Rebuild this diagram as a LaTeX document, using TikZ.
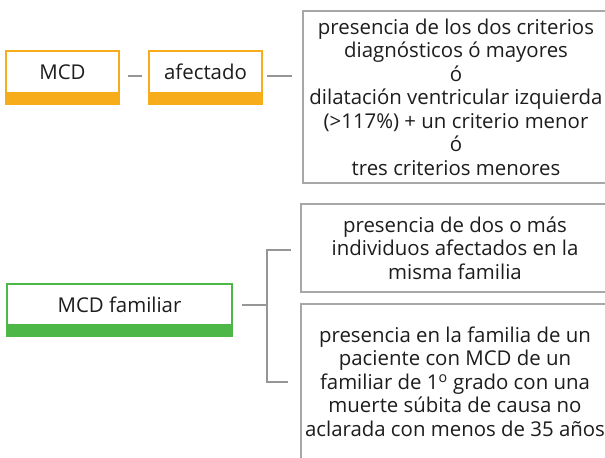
\documentclass[tikz,border=0pt]{standalone}
\usepackage{fontspec}
\setmainfont{Open Sans}
\definecolor{orangeC}{RGB}{247,173,27}
\definecolor{greenC}{RGB}{77,184,72}
\definecolor{grayB}{RGB}{167,167,167}
\definecolor{lineC}{RGB}{150,150,150}
\definecolor{txtC}{RGB}{30,28,28}
\newdimen\pxu \pxu=0.75pt
\newcommand\fs{\fontsize{15.3}{17.6}\selectfont}
\begin{document}
\begin{tikzpicture}[x=0.75pt,y=-0.75pt,
  box/.style={draw, line width=2\pxu, fill=white, inner sep=0pt, outer sep=0pt,
    anchor=north west, align=center, font=\fs, text=txtC},
  obox/.style={box, draw=orangeC},
  grbox/.style={box, draw=greenC},
  gbox/.style={box, draw=grayB},
  conn/.style={draw=lineC, line width=2\pxu}]
\clip (0,0) rectangle (605,457);
\fill[white] (0,0) rectangle (605,457);

% top row
\node[obox, minimum width=113\pxu, minimum height=42\pxu] (mcd) at (6,51) {MCD};
\fill[orangeC] ([shift={(-1,0)}]mcd.south west) rectangle ([shift={(1,12)}]mcd.south east);
\node[obox, minimum width=113\pxu, minimum height=42\pxu] (afe) at (149,51) {afectado};
\fill[orangeC] ([shift={(-1,0)}]afe.south west) rectangle ([shift={(1,12)}]afe.south east);
\node[gbox, minimum width=306\pxu, minimum height=172\pxu] (crit) at (303,11)
  {presencia de los dos criterios\\diagnósticos ó mayores\\ó\\dilatación ventricular izquierda\\(>117\%) + un criterio menor\\ó\\tres criterios menores};

\draw[conn] ([shift={(9,4)}]mcd.east) -- ([shift={(-7,4)}]afe.west);
\path (crit.west |- afe.east) coordinate (cj);
\draw[conn] ([shift={(5,4)}]afe.east) -- ([shift={(-11,4)}]cj);

% bottom group
\node[grbox, minimum width=225\pxu, minimum height=41\pxu] (fam) at (7,284) {MCD familiar};
\fill[greenC] ([shift={(-1,0)}]fam.south west) rectangle ([shift={(1,12)}]fam.south east);
\node[gbox, minimum width=308\pxu, minimum height=88\pxu] (pres2) at (301,204)
  {presencia de dos o más\\individuos afectados en la\\misma familia};
\node[gbox, minimum width=308\pxu, minimum height=155\pxu] (pres3) at (301,304)
  {presencia en la familia de un\\paciente con MCD de un\\familiar de 1\textsuperscript{o} grado con una\\muerte súbita de causa no\\aclarada con menos de 35 años};

\coordinate (brk) at ([shift={(35,0)}]fam.east);
\draw[conn] ([shift={(10,0)}]fam.east) -- (brk);
\draw[conn] ([shift={(-10,2)}]pres2.west) -| (brk) |- ([shift={(-13,0)}]pres3.west);
\end{tikzpicture}
\end{document}
